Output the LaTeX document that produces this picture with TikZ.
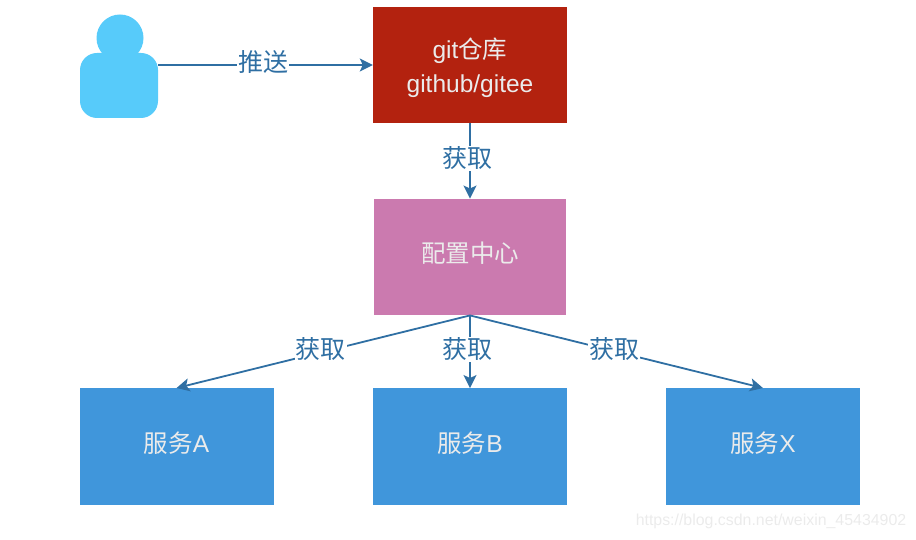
\documentclass[tikz,border=0pt]{standalone}
\usepackage{fontspec}
\setmainfont{Liberation Sans}
\newfontfamily\cjk{Noto Sans CJK SC}
\usetikzlibrary{arrows.meta}
\definecolor{repored}{HTML}{B3220F}
\definecolor{centerpink}{HTML}{CB7AAF}
\definecolor{svcblue}{HTML}{4096DB}
\definecolor{userblue}{HTML}{57CBFA}
\definecolor{linkblue}{HTML}{2F6FA3}
\definecolor{marklgray}{HTML}{EBEBEB}

\begin{document}
\begin{tikzpicture}[x=1pt, y=1pt, node distance={192pt},
    box/.style = {minimum width=194pt, minimum height=116.5pt, inner sep=0pt, text=white!92!black, font=\fontsize{24.5}{34}\selectfont, align=center},
    repo/.style = {box, fill=repored},
    center/.style = {box, fill=centerpink, minimum width=192pt, text depth=9pt},
    svc/.style = {box, fill=svcblue, text depth=8pt},
    person/.style = {fill=userblue, inner sep=0pt},
    link/.style = {draw=linkblue, line width=1.8pt, -{Stealth[length=13pt,width=13pt,inset=3pt]}},
    tag/.style = {fill=white, inner sep=1pt, xshift=-2.5pt, yshift=2.5pt, text=linkblue, font=\cjk\fontsize{25}{25}\selectfont}]
\useasboundingbox (0,0) rectangle (916,540);
\node[person, circle, minimum size=47pt] (head) at (120,502) {};
\node[person, rounded corners=17pt, minimum width=78pt, minimum height=65pt] (user) at (119,454.5) {};
\node[repo] (git) at (470,475) {\rule{0pt}{26pt}git{\cjk 仓库}\\github/gitee};
\node[center] (config) [below of=git] {\cjk 配置中心};
\node[svc] (b) [below of=config, node distance=189.5pt] {{\cjk 服务}B};
\node[svc] (a) [left of=b, node distance=293.5pt] {{\cjk 服务}A};
\node[svc] (x) [right of=b, node distance=293pt] {{\cjk 服务}X};
\node[text=marklgray, font=\fontsize{15.9}{15.9}\selectfont, inner sep=0pt] (mark) at (771,19) {https://blog.csdn.net/weixin\_45434902};
\draw[link] (user.east |- git.west) -- node[tag] {推送} (git.west);
\draw[link] (git) -- node[tag] {获取} (config);
\draw[link] (config.south) -- node[tag] {获取} (a.north);
\draw[link] (config.south) -- node[tag] {获取} (b.north);
\draw[link] (config.south) -- node[tag] {获取} (x.north);
\end{tikzpicture}
\end{document}
